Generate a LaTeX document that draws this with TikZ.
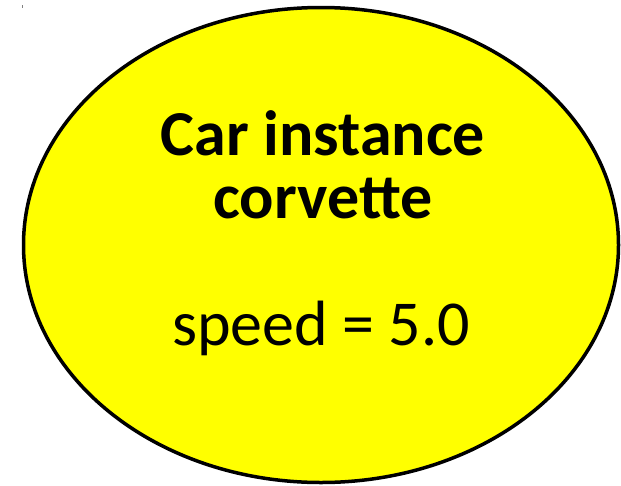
\documentclass[tikz,border=0pt]{standalone}
\usepackage{fontspec}
\setmainfont{Carlito}
\usetikzlibrary{shapes.geometric}
\definecolor{objyellow}{RGB}{255,255,0}
\begin{document}
\begin{tikzpicture}[x=1pt,y=-1pt,
  objshape/.style={ellipse, draw=black, line width=3.5pt, fill=objyellow, inner sep=0pt},
  boldtxt/.style={anchor=base, inner sep=0pt, font=\fontsize{64}{70}\selectfont\bfseries},
  plaintxt/.style={anchor=base, inner sep=0pt, font=\fontsize{64}{70}\selectfont}]
\useasboundingbox (0,0) rectangle (621,485);
\draw[gray, line width=1pt] (22.5,5) -- (22.5,8);
\node[objshape, minimum width=595pt, minimum height=475pt] (obj) at (321,245) {};
\node[boldtxt] (t1) at (323,155) {Car instance};
\node[boldtxt] (t2) at (323,218) {corvette};
\node[plaintxt] (t3) at (321,345) {speed = 5.0};
\end{tikzpicture}
\end{document}
